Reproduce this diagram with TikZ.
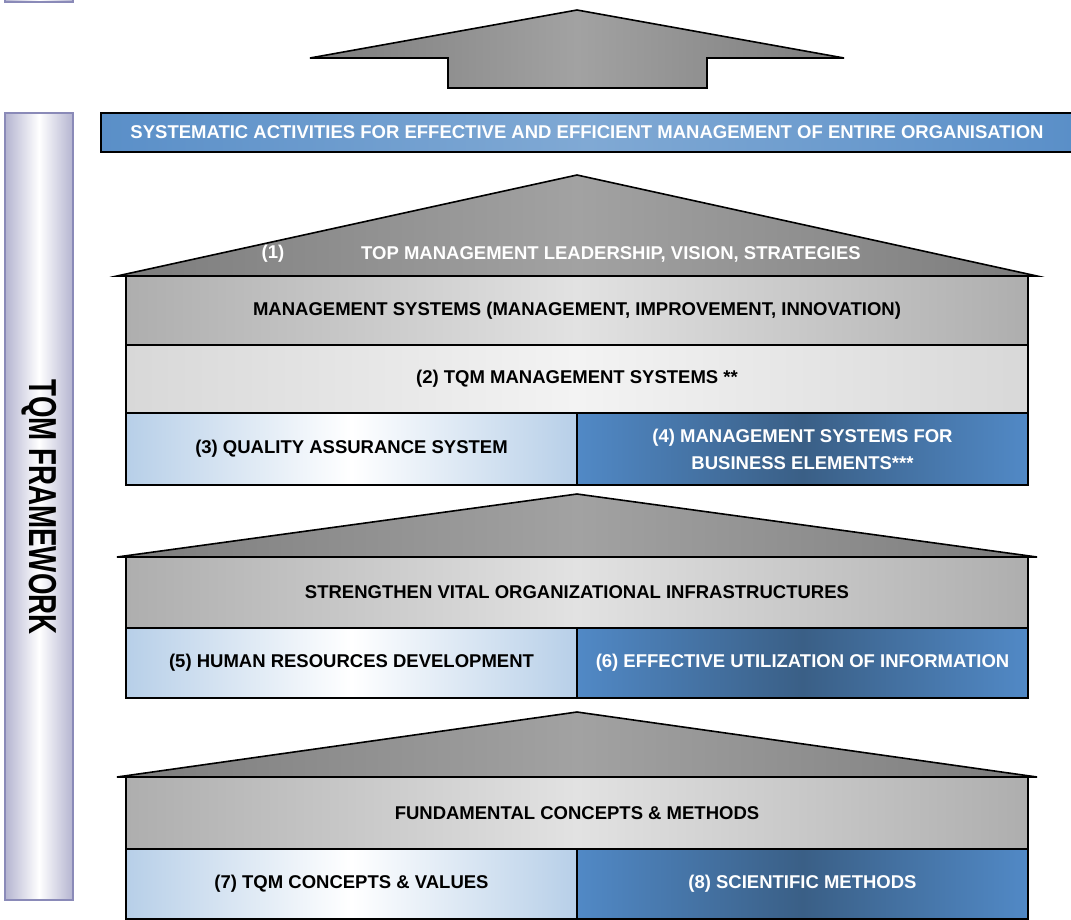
\documentclass[tikz,border=0pt]{standalone}
\usepackage{fontspec}
\setmainfont{Liberation Sans}
\usetikzlibrary{positioning}

\definecolor{roofside}{HTML}{7C7C7C}
\definecolor{roofmid}{HTML}{A2A2A2}
\definecolor{grayside}{HTML}{AEAEAE}
\definecolor{graymid}{HTML}{E2E2E2}
\definecolor{paleside}{HTML}{D8D8D8}
\definecolor{palemid}{HTML}{F3F3F3}
\definecolor{skyside}{HTML}{B7CFE8}
\definecolor{navyside}{HTML}{5189C6}
\definecolor{navymid}{HTML}{3A5F86}
\definecolor{bannerside}{HTML}{5A8FC8}
\definecolor{bannermid}{HTML}{80A9D4}
\definecolor{barside}{HTML}{B4B4D0}
\definecolor{barline}{HTML}{8A8AB8}

\tikzset{
  boldtext/.style={font=\bfseries\fontsize{18.5}{27}\selectfont},
  band/.style={draw=black, line width=1.6pt, inner sep=0pt, outer sep=0pt,
    minimum width=902pt, align=center, boldtext},
  grayband/.style={band, left color=grayside, right color=grayside, middle color=graymid},
  paleband/.style={band, left color=paleside, right color=paleside, middle color=palemid},
  halfband/.style={band, minimum width=451pt},
  skyband/.style={halfband, left color=skyside, right color=skyside, middle color=white},
  navyband/.style={halfband, text=white, left color=navyside, right color=navyside, middle color=navymid},
  roof/.style={draw=black, line width=1.6pt, line join=miter,
    left color=roofside, right color=roofside, middle color=roofmid},
  rooftext/.style={boldtext, text=white, inner sep=0pt}
}

\begin{document}
\begin{tikzpicture}[x=1pt, y=-1pt]
  \useasboundingbox (0,0) rectangle (1071,919);

  %% side bar
  \draw[draw=barline, line width=2pt, left color=barside, right color=barside, middle color=white]
    (5,-20) rectangle (73,2);
  \draw[draw=barline, line width=2pt, left color=barside, right color=barside, middle color=white]
    (5,113) rectangle (73,900);
  \node[rotate=-90, inner sep=0pt] (frame) at (39,507)
    {\scalebox{0.71}[1]{\bfseries\fontsize{39}{39}\selectfont TQM FRAMEWORK}};

  %% top arrow and banner
  \draw[roof] (310,58) -- (577,10) -- (844,58) -- (707,58) -- (707,88)
    -- (448,88) -- (448,58) -- cycle;
  \node[draw=black, line width=2.5pt, inner sep=0pt, outer sep=0pt,
    minimum width=972pt, minimum height=39pt, text=white, boldtext,
    left color=bannerside, right color=bannerside, middle color=bannermid]
    (banner) at (587,132.5)
    {SYSTEMATIC ACTIVITIES FOR EFFECTIVE AND EFFICIENT MANAGEMENT OF ENTIRE ORGANISATION};

  %% tier 1
  \draw[roof] (117,276) -- (577,175) -- (1037,276) -- cycle;
  \node[rooftext] (leadno) at (273,254) {(1)};
  \node[rooftext] (lead) at (611,254) {TOP MANAGEMENT LEADERSHIP, VISION, STRATEGIES};
  \node[grayband, minimum height=69pt, anchor=north west] (mgmt) at (126,276)
    {MANAGEMENT SYSTEMS (MANAGEMENT, IMPROVEMENT, INNOVATION)};
  \node[paleband, minimum height=68pt, below=0pt of mgmt] (tqmsys)
    {(2) TQM MANAGEMENT SYSTEMS **};
  \node[skyband, minimum height=72pt, anchor=north west] (qas) at (126,413)
    {(3) QUALITY ASSURANCE SYSTEM};
  \node[navyband, minimum height=72pt, right=0pt of qas] (bizel)
    {(4) MANAGEMENT SYSTEMS FOR\\BUSINESS ELEMENTS***};

  %% tier 2
  \draw[roof] (117,557) -- (577,494) -- (1037,557) -- cycle;
  \node[grayband, minimum height=71pt, anchor=north west] (infra) at (126,557)
    {STRENGTHEN VITAL ORGANIZATIONAL INFRASTRUCTURES};
  \node[skyband, minimum height=70pt, anchor=north west] (hrd) at (126,628)
    {(5) HUMAN RESOURCES DEVELOPMENT};
  \node[navyband, minimum height=70pt, right=0pt of hrd] (info)
    {(6) EFFECTIVE UTILIZATION OF INFORMATION};

  %% tier 3
  \draw[roof] (117,777) -- (577,712) -- (1037,777) -- cycle;
  \node[grayband, minimum height=72pt, anchor=north west] (fund) at (126,777)
    {FUNDAMENTAL CONCEPTS \& METHODS};
  \node[skyband, minimum height=70pt, anchor=north west] (values) at (126,849)
    {(7) TQM CONCEPTS \& VALUES};
  \node[navyband, minimum height=70pt, right=0pt of values] (scimeth)
    {(8) SCIENTIFIC METHODS};

\end{tikzpicture}
\end{document}
